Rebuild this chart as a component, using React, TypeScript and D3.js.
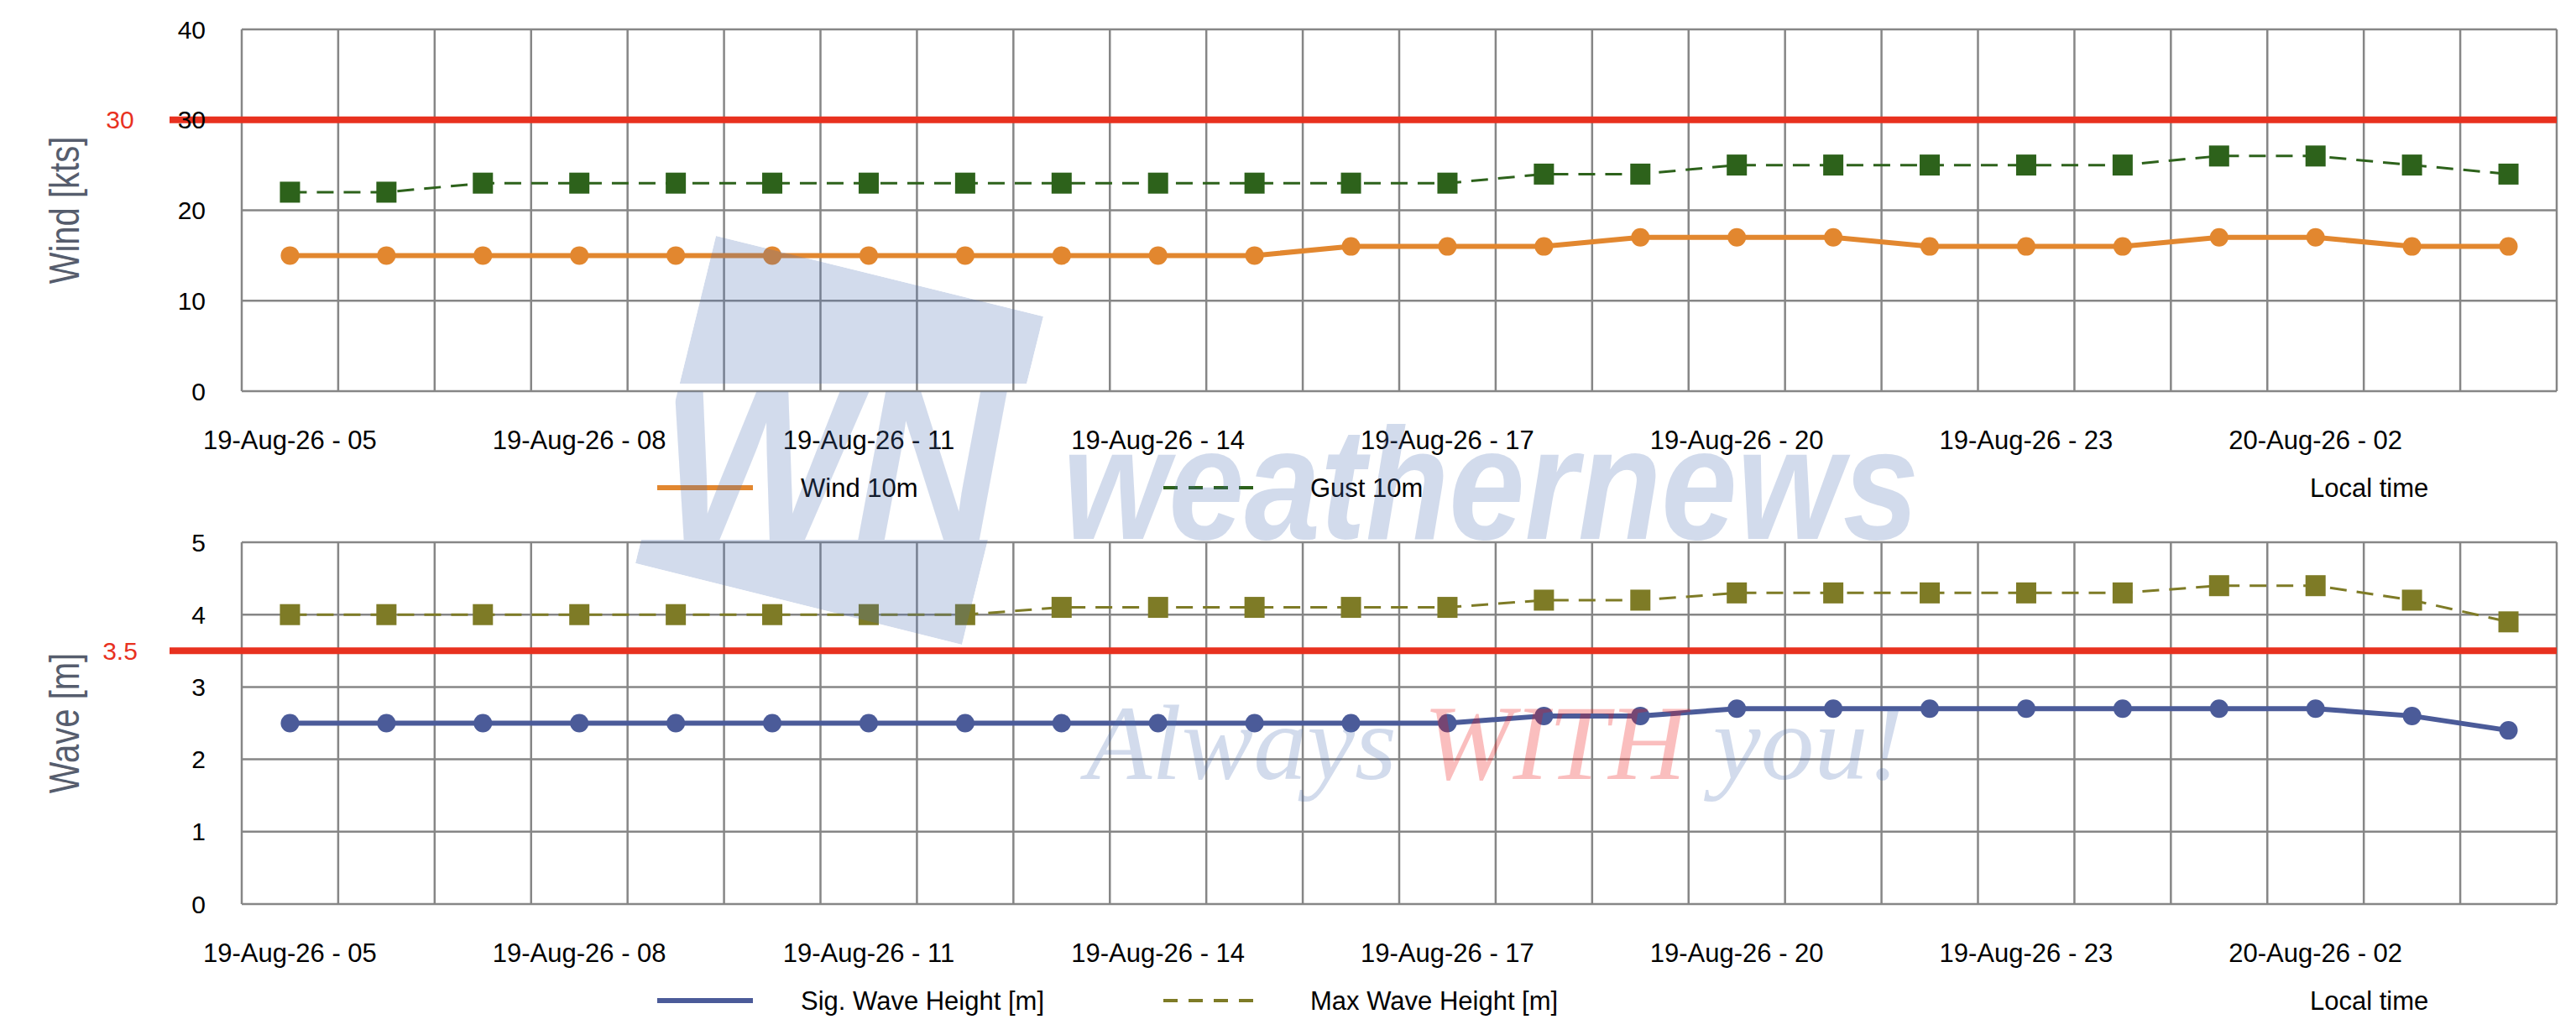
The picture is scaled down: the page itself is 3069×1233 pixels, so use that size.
import * as d3 from "d3";

// hourly forecast steps (local time)
const times = [
  "19-Aug-26 - 05", "19-Aug-26 - 06", "19-Aug-26 - 07", "19-Aug-26 - 08",
  "19-Aug-26 - 09", "19-Aug-26 - 10", "19-Aug-26 - 11", "19-Aug-26 - 12",
  "19-Aug-26 - 13", "19-Aug-26 - 14", "19-Aug-26 - 15", "19-Aug-26 - 16",
  "19-Aug-26 - 17", "19-Aug-26 - 18", "19-Aug-26 - 19", "19-Aug-26 - 20",
  "19-Aug-26 - 21", "19-Aug-26 - 22", "19-Aug-26 - 23", "20-Aug-26 - 00",
  "20-Aug-26 - 01", "20-Aug-26 - 02", "20-Aug-26 - 03", "20-Aug-26 - 04",
];
const labelEvery = 3;

const wind10m = [15, 15, 15, 15, 15, 15, 15, 15, 15, 15, 15, 16, 16, 16, 17, 17, 17, 16, 16, 16, 17, 17, 16, 16];
const gust10m = [22, 22, 23, 23, 23, 23, 23, 23, 23, 23, 23, 23, 23, 24, 24, 25, 25, 25, 25, 25, 26, 26, 25, 24];
const sigWave = [2.5, 2.5, 2.5, 2.5, 2.5, 2.5, 2.5, 2.5, 2.5, 2.5, 2.5, 2.5, 2.5, 2.6, 2.6, 2.7, 2.7, 2.7, 2.7, 2.7, 2.7, 2.7, 2.6, 2.4];
const maxWave = [4.0, 4.0, 4.0, 4.0, 4.0, 4.0, 4.0, 4.0, 4.1, 4.1, 4.1, 4.1, 4.1, 4.2, 4.2, 4.3, 4.3, 4.3, 4.3, 4.3, 4.4, 4.4, 4.2, 3.9];

const windTicks = [0, 10, 20, 30, 40];
const waveTicks = [0, 1, 2, 3, 4, 5];
const windLimit = 30;
const waveLimit = 3.5;

const W = 3069;
const H = 1233;
const LEFT = 288;
const RIGHT = 3046;
const FONT = "'Liberation Sans', Arial, Helvetica, sans-serif";
const GRID = "#868686";
const RED = "#e8311f";

const x = d3.scaleBand<string>().domain(times).range([LEFT, RIGHT]).padding(0);
const cx = (i: number) => (x(times[i]) as number) + x.bandwidth() / 2;

interface PanelProps {
  y: d3.ScaleLinear<number, number>;
  ticks: number[];
  solid: number[];
  dashed: number[];
  limit: number;
  limitLabel: string;
  title: string;
  solidColor: string;
  dashColor: string;
  solidName: string;
  dashName: string;
  legendY: number;
}

const Panel = (p: PanelProps) => {
  const { y } = p;
  const [y0, y1] = y.range();
  const line = d3
    .line<number>()
    .x((_, i) => cx(i))
    .y((d) => y(d));
  const edges = d3.range(times.length + 1).map((i) => LEFT + i * x.step());

  return (
    <g>
      {/* grid */}
      {p.ticks.map((t) => (
        <line key={"h" + t} x1={LEFT} x2={RIGHT} y1={y(t)} y2={y(t)} stroke={GRID} strokeWidth={2.5} />
      ))}
      {edges.map((ex, i) => (
        <line key={"v" + i} x1={ex} x2={ex} y1={y1} y2={y0} stroke={GRID} strokeWidth={2.5} />
      ))}

      {/* limit line */}
      <line x1={202} x2={RIGHT} y1={y(p.limit)} y2={y(p.limit)} stroke={RED} strokeWidth={8} />
      <text x={143} y={y(p.limit)} fill={RED} fontSize={30} textAnchor="middle" dominantBaseline="central">
        {p.limitLabel}
      </text>

      {/* series */}
      <path d={line(p.solid) ?? ""} fill="none" stroke={p.solidColor} strokeWidth={6} />
      <path d={line(p.dashed) ?? ""} fill="none" stroke={p.dashColor} strokeWidth={3} strokeDasharray="20,12" />
      {p.solid.map((d, i) => (
        <circle key={"c" + i} cx={cx(i)} cy={y(d)} r={11} fill={p.solidColor} />
      ))}
      {p.dashed.map((d, i) => (
        <rect key={"s" + i} x={cx(i) - 12} y={y(d) - 12.5} width={24} height={25} fill={p.dashColor} />
      ))}

      {/* y ticks */}
      {p.ticks.map((t) => (
        <text key={"t" + t} x={245} y={y(t)} fontSize={30} textAnchor="end" dominantBaseline="central" fill="#000">
          {t}
        </text>
      ))}
      <text
        transform={`translate(77,${(y0 + y1) / 2}) rotate(-90) scale(0.8,1)`}
        fontSize={50}
        textAnchor="middle"
        dominantBaseline="central"
        fill="#565d6d"
      >
        {p.title}
      </text>

      {/* x labels */}
      {times.map((t, i) =>
        i % labelEvery === 0 ? (
          <text key={"x" + i} x={cx(i)} y={y0 + 58} fontSize={31} textAnchor="middle" dominantBaseline="central">
            {t}
          </text>
        ) : null
      )}

      {/* legend */}
      <line x1={783} x2={897} y1={p.legendY} y2={p.legendY} stroke={p.solidColor} strokeWidth={6} />
      <text x={954} y={p.legendY} fontSize={31} dominantBaseline="central">
        {p.solidName}
      </text>
      <line x1={1386} x2={1500} y1={p.legendY} y2={p.legendY} stroke={p.dashColor} strokeWidth={4} strokeDasharray="17,13" />
      <text x={1561} y={p.legendY} fontSize={31} dominantBaseline="central">
        {p.dashName}
      </text>
      <text x={2752} y={p.legendY} fontSize={31} dominantBaseline="central">
        Local time
      </text>
    </g>
  );
};

const Watermark = () => {
  const sq = "853,281 1243,377 1146,768 757,671";
  return (
    <g pointerEvents="none">
      <defs>
        <clipPath id="wnClip">
          <polygon points={sq} />
        </clipPath>
        <mask id="wnMask">
          <polygon points={sq} fill="white" />
          <rect x={700} y={457} width={600} height={186} fill="black" />
          <text
            x={786}
            y={643}
            fontSize={256}
            fontWeight="bold"
            fontStyle="italic"
            fontFamily={FONT}
            fill="white"
            transform="translate(786,0) scale(0.96,1) translate(-786,0)"
          >
            WN
          </text>
        </mask>
      </defs>
      <g clipPath="url(#wnClip)">
        <rect x={700} y={250} width={600} height={560} fill="#4a6fb5" fillOpacity={0.25} mask="url(#wnMask)" />
      </g>
      <text
        transform="translate(1266,642) scale(0.855,1)"
        fontSize={190}
        fontWeight="bold"
        fontStyle="italic"
        fontFamily={FONT}
        fill="#4a6fb5"
        fillOpacity={0.25}
      >
        weathernews
      </text>
      <text
        x={1294}
        y={928}
        fontSize={128}
        fontStyle="italic"
        fontFamily="'Liberation Serif', 'Times New Roman', serif"
      >
        <tspan fill="#4a6fb5" fillOpacity={0.25}>Always </tspan>
        <tspan fill="#ee1010" fillOpacity={0.27}>WITH </tspan>
        <tspan fill="#4a6fb5" fillOpacity={0.25}>you!</tspan>
      </text>
    </g>
  );
};

const App = () => {
  const yWind = d3.scaleLinear().domain([0, 40]).range([466, 35]);
  const yWave = d3.scaleLinear().domain([0, 5]).range([1077, 646]);

  return (
    <svg
      width={W}
      height={H}
      viewBox={`0 0 ${W} ${H}`}
      style={{ position: "absolute", left: 0, top: 0, display: "block", background: "#fff" }}
      fontFamily={FONT}
    >
      <rect width={W} height={H} fill="#fff" />
      <Panel
        y={yWind}
        ticks={windTicks}
        solid={wind10m}
        dashed={gust10m}
        limit={windLimit}
        limitLabel="30"
        title="Wind [kts]"
        solidColor="#e2872f"
        dashColor="#2d621b"
        solidName="Wind 10m"
        dashName="Gust 10m"
        legendY={581}
      />
      <Panel
        y={yWave}
        ticks={waveTicks}
        solid={sigWave}
        dashed={maxWave}
        limit={waveLimit}
        limitLabel="3.5"
        title="Wave [m]"
        solidColor="#4b5b99"
        dashColor="#7e7b26"
        solidName="Sig. Wave Height [m]"
        dashName="Max Wave Height [m]"
        legendY={1192}
      />
      <Watermark />
    </svg>
  );
};

export default App;
